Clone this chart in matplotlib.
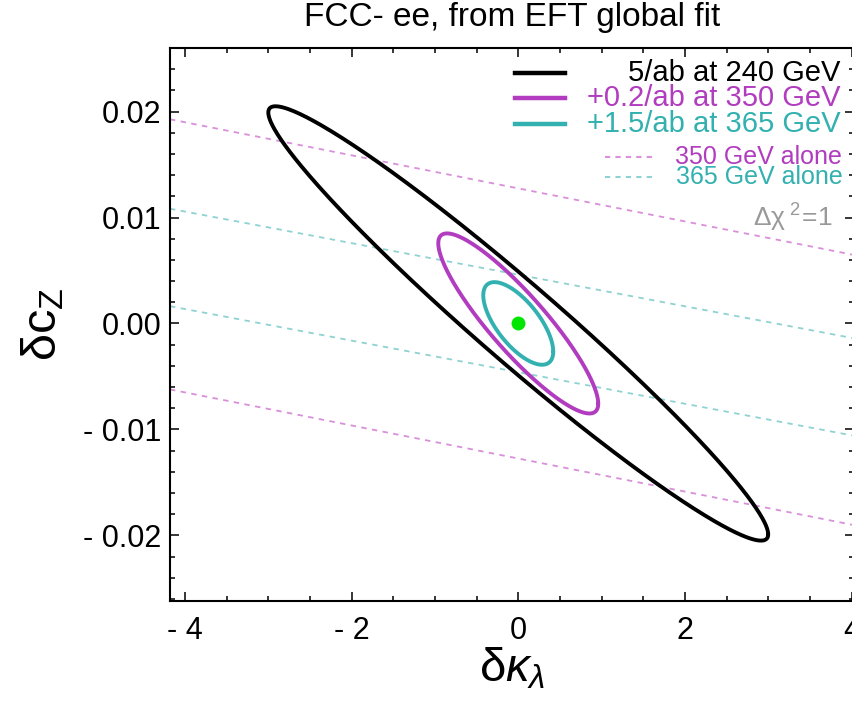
import matplotlib
matplotlib.use('Agg')
import matplotlib.pyplot as plt
import numpy as np

plt.rcParams['font.family'] = ['Liberation Sans', 'DejaVu Sans']
plt.rcParams['mathtext.fontset'] = 'custom'
plt.rcParams['mathtext.rm'] = 'Liberation Sans'
plt.rcParams['mathtext.it'] = 'Liberation Sans:italic'

BLACK = "#000000"
MAGENTA = "#b13cbf"
TEAL = "#33b0b0"
MAGENTA_LIGHT = "#d98fd9"
TEAL_LIGHT = "#8fd2d2"
GREEN = "#00e600"

# combined fits: (sigma_kappa, sigma_cz, correlation), Delta chi^2 = 1
fit_labels = ["5/ab at 240 GeV", "+0.2/ab at 350 GeV", "+1.5/ab at 365 GeV"]
sigma_kl = [3.0, 0.96, 0.42]
sigma_cz = [0.0205, 0.0085, 0.0039]
corr = [-0.971, -0.89, -0.68]
fit_colors = [BLACK, MAGENTA, TEAL]

# single-energy runs only fix one combination: dcZ + slope*dk = +-width
alone_labels = ["350 GeV alone", "365 GeV alone"]
alone_slope = [0.00156, 0.00149]
alone_width = [0.01275, 0.0046]
alone_colors = [MAGENTA_LIGHT, TEAL_LIGHT]
alone_text_colors = [MAGENTA, TEAL]

best_fit = (0.0, 0.0)

XLIM = (-4.18, 4.03)
YLIM = (-0.0262, 0.026)

fig = plt.figure(figsize=(8.53, 7.05), dpi=100)
ax = fig.add_axes([170 / 853, 1 - 601 / 705, 684 / 853, 553 / 705])

# dashed bands
xs = np.array(XLIM)
for k, w, c in zip(alone_slope, alone_width, alone_colors):
    for sgn in (1, -1):
        ax.plot(xs, sgn * w - k * xs, color=c, lw=1.3, dashes=(3, 3), zorder=1)

# ellipses
t = np.linspace(0, 2 * np.pi, 500)
for sx, sy, r, c in zip(sigma_kl, sigma_cz, corr, fit_colors):
    ex = sx * np.cos(t)
    ey = sy * (r * np.cos(t) + np.sqrt(1 - r ** 2) * np.sin(t))
    ax.plot(ex, ey, color=c, lw=2.8, zorder=3, solid_capstyle='round')

ax.plot([best_fit[0]], [best_fit[1]], 'o', color=GREEN, ms=10, mec='none', zorder=4)

ax.set_xlim(*XLIM)
ax.set_ylim(*YLIM)
ax.set_xticks([-4, -2, 0, 2, 4])
ax.set_xticks(np.arange(-4, 4.01, 0.5), minor=True)
ax.set_yticks([-0.02, -0.01, 0.0, 0.01, 0.02])
ax.set_yticks(np.arange(-0.026, 0.0261, 0.002), minor=True)


def fmt_x(v, pos=None):
    return "- %d" % abs(v) if v < 0 else "%d" % v


def fmt_y(v, pos=None):
    return "- %.2f" % abs(v) if v < -1e-9 else "%.2f" % abs(v)


ax.xaxis.set_major_formatter(plt.FuncFormatter(fmt_x))
ax.yaxis.set_major_formatter(plt.FuncFormatter(fmt_y))
ax.tick_params(which='both', direction='in', top=True, right=True, width=1.1)
ax.tick_params(which='major', length=6.5, labelsize=22)
ax.tick_params(axis='x', which='major', pad=11)
ax.tick_params(axis='y', which='major', pad=6)
ax.tick_params(which='minor', length=3.5)
for sp in ax.spines.values():
    sp.set_linewidth(1.5)

ax.set_xlabel(r'$\mathregular{δ}\mathit{κ}_{\mathit{λ}}$', fontsize=34, labelpad=0)
ax.set_ylabel(r'$\mathregular{δc_Z}$', fontsize=35, labelpad=12)
ax.set_title("FCC- ee, from EFT global fit", fontsize=24, pad=16)

# legend drawn by hand (text right-aligned)
tr = ax.transAxes
rows = [0.955, 0.910, 0.862]
for lab, c, yy in zip(fit_labels, fit_colors, rows):
    ax.plot([0.504, 0.577], [yy, yy], color=c, lw=3.2, transform=tr)
    ax.text(0.980, yy, lab, color=c, fontsize=21, ha='right', va='center', transform=tr)
rows2 = [0.802, 0.766]
for lab, c, tc, yy in zip(alone_labels, alone_colors, alone_text_colors, rows2):
    ax.plot([0.636, 0.706], [yy, yy], color=c, lw=1.5, dashes=(2.5, 2.5), transform=tr)
    ax.text(0.983, yy, lab, color=tc, fontsize=18, ha='right', va='center', transform=tr)
ax.text(0.970, 0.693, r'$\mathregular{Δχ^{\ 2}\!=\!1}$', color='#999999', fontsize=19,
        ha='right', va='center', transform=tr)

fig.savefig("out.png", dpi=100)
